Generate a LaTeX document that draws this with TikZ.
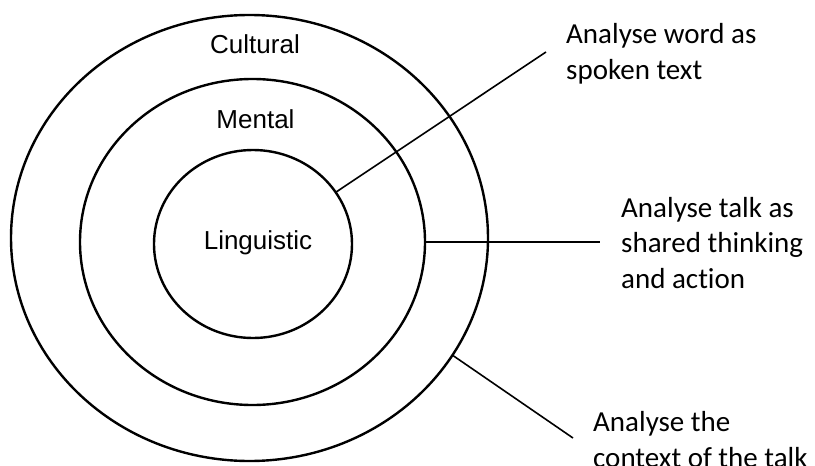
\documentclass[tikz,border=0pt]{standalone}
\usepackage{fontspec}
\setmainfont{Carlito}[Ligatures=NoCommon]
\newfontfamily\ringfont{Liberation Sans}
\usepackage{xcolor}
\usetikzlibrary{shapes.geometric}
\definecolor{ink}{HTML}{000000}
\tikzset{
  ring/.style={ellipse,draw=ink,line width=2.4pt,inner sep=0pt,outer sep=0pt},
  ringlabel/.style={font=\ringfont\fontsize{26}{30}\selectfont,inner sep=0pt,anchor=base,text=ink},
  note/.style={font=\fontsize{29}{35.5}\selectfont,align=left,inner sep=0pt,anchor=base west,text=ink},
  leader/.style={draw=ink,line width=1.6pt},
}

\begin{document}
\begin{tikzpicture}[x=1pt,y=-1pt]
  \useasboundingbox (0,0) rectangle (815,466);
  % the three levels
  \node[ring,minimum width=477pt,minimum height=446pt] (cultural) at (249.5,238) {};
  \node[ring,minimum width=345pt,minimum height=326pt] (mental) at (252.5,242) {};
  \node[ring,minimum width=198pt,minimum height=188pt] (linguistic) at (253,244) {};
  \node[ringlabel] (cultural-t) at (255,53) {Cultural};
  \node[ringlabel] (mental-t) at (255.5,128) {Mental};
  \node[ringlabel] (linguistic-t) at (258,249) {Linguistic};
  % notes on the right (anchored at the baseline of their last line)
  \node[note] (wordnote) at (566,79) {Analyse word as\\spoken text};
  \node[note] (talknote) at (621,288) {Analyse talk as\\shared thinking\\and action};
  \node[note] (ctxnote) at (593,467) {Analyse the\\context of the talk};
  \coordinate (wordend) at (546,52);
  \coordinate (talkend) at (600,242);
  \coordinate (ctxend) at (573,438);
  \draw[leader] (linguistic.32) -- (wordend);
  \draw[leader] (mental.east) -- (talkend);
  \draw[leader] (cultural.-30) -- (ctxend);
\end{tikzpicture}
\end{document}
